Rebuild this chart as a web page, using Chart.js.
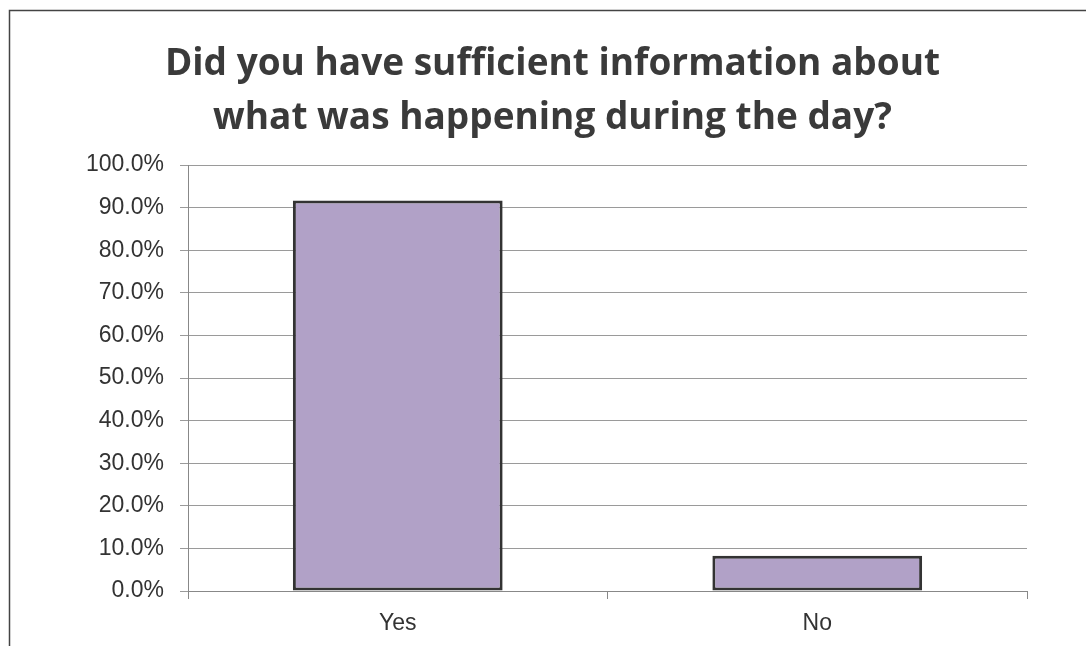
<!DOCTYPE html>
<html>
<head>
<meta charset="utf-8">
<script src="https://cdn.jsdelivr.net/npm/chart.js@4"></script>
<style>
    html, body { margin: 0; padding: 0; background: #fff; }
    #wrap { width: 1086px; height: 646px; position: relative; }
</style>
</head>
<body>
<div id="wrap"><canvas id="chart" width="1086" height="646"></canvas></div>
<script>
const categories = ['Yes', 'No'];
const answerShare = [91.7, 8.3];
const yTicks = [0, 10, 20, 30, 40, 50, 60, 70, 80, 90, 100];
const titleLines = ['Did you have sufficient information about', 'what was happening during the day?'];

// outer frame of the original picture, cut off at the right and bottom
const framePlugin = {
    id: 'frame',
    beforeDraw(chart) {
        const ctx = chart.ctx;
        ctx.save();
        ctx.fillStyle = '#fff';
        ctx.fillRect(0, 0, chart.width, chart.height);
        ctx.strokeStyle = '#444';
        ctx.lineWidth = 1.5;
        ctx.beginPath();
        ctx.moveTo(9.5, chart.height);
        ctx.lineTo(9.5, 10.5);
        ctx.lineTo(chart.width, 10.5);
        ctx.stroke();
        ctx.restore();
    }
};

const config = {
    type: 'bar',
    data: {
        labels: categories,
        datasets: [{
            data: answerShare,
            backgroundColor: '#b1a1c7',
            borderColor: '#333',
            borderWidth: 3,
            borderSkipped: false,
            categoryPercentage: 1,
            barPercentage: 0.5
        }]
    },
    options: {
        responsive: false,
        animation: false,
        // left padding keeps the title centred like the original
        layout: { padding: { left: 78, right: 59, top: 0, bottom: 0 } },
        plugins: {
            legend: { display: false },
            tooltip: { enabled: false },
            title: {
                display: true,
                text: titleLines,
                color: '#3a3a3a',
                font: { family: 'Open Sans', size: 37, weight: 'bold', lineHeight: 1.46 },
                padding: { top: 37, bottom: 20 }
            }
        },
        scales: {
            x: {
                grid: { drawOnChartArea: false, drawTicks: true, tickLength: 8, color: '#888' },
                border: { color: '#888' },
                ticks: { color: '#333', padding: 11, font: { family: 'Liberation Sans', size: 23 } },
                afterFit: (scale) => { scale.height = 55; }
            },
            y: {
                min: 0,
                max: 100,
                afterBuildTicks: (scale) => { scale.ticks = yTicks.map(v => ({ value: v })); },
                grid: { color: '#9a9a9a', tickLength: 8 },
                border: { color: '#888' },
                ticks: {
                    color: '#333',
                    padding: 16,
                    font: { family: 'Liberation Sans', size: 23 },
                    callback: (v) => v.toFixed(1) + '%'
                },
                afterFit: (scale) => { scale.width = 110; }
            }
        }
    },
    plugins: [framePlugin]
};

new Chart(document.getElementById('chart'), config);
</script>
</body>
</html>
